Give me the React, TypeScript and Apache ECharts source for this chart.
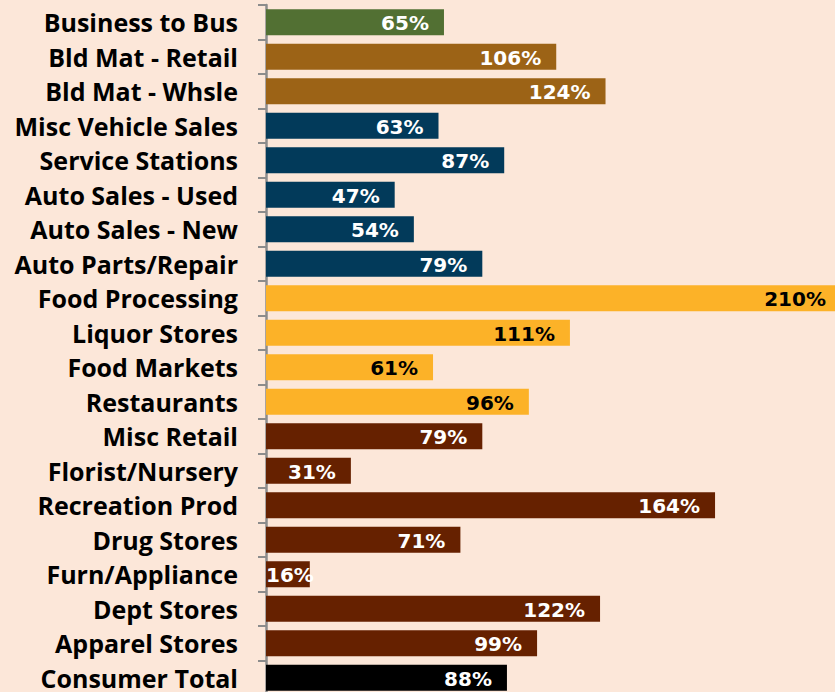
import React, { useEffect, useRef } from "react";
import * as echarts from "echarts";

const categories = [
  "Business to Bus",
  "Bld Mat - Retail",
  "Bld Mat - Whsle",
  "Misc Vehicle Sales",
  "Service Stations",
  "Auto Sales - Used",
  "Auto Sales - New",
  "Auto Parts/Repair",
  "Food Processing",
  "Liquor Stores",
  "Food Markets",
  "Restaurants",
  "Misc Retail",
  "Florist/Nursery",
  "Recreation Prod",
  "Drug Stores",
  "Furn/Appliance",
  "Dept Stores",
  "Apparel Stores",
  "Consumer Total",
];
const values = [65, 106, 124, 63, 87, 47, 54, 79, 210, 111, 61, 96, 79, 31, 164, 71, 16, 122, 99, 88];
const groups = [
  "b2b", "bld", "bld", "auto", "auto", "auto", "auto", "auto",
  "food", "food", "food", "food",
  "retail", "retail", "retail", "retail", "retail", "retail", "retail", "total",
];
const groupColors: Record<string, string> = {
  b2b: "#527033",
  bld: "#9C6316",
  auto: "#023A5A",
  food: "#FCB228",
  retail: "#662100",
  total: "#000000",
};
const groupLabelColors: Record<string, string> = {
  b2b: "#ffffff",
  bld: "#ffffff",
  auto: "#ffffff",
  food: "#000000",
  retail: "#ffffff",
  total: "#ffffff",
};

export default function App() {
  const ref = useRef<HTMLDivElement>(null);
  useEffect(() => {
    if (!ref.current) return;
    const chart = echarts.init(ref.current, undefined, { renderer: "svg" });
    chart.setOption({
      animation: false,
      backgroundColor: "#FCE7D9",
      grid: { left: 266, right: 0, top: 5, bottom: 0, containLabel: false },
      xAxis: {
        type: "value",
        min: 0,
        max: 210,
        show: false,
      },
      yAxis: {
        type: "category",
        inverse: true,
        data: categories,
        axisLine: { show: true, lineStyle: { color: "#8C8C8C", width: 2.5 } },
        axisTick: { show: true, length: 8, inside: false, lineStyle: { color: "#8C8C8C", width: 2 } },
        axisLabel: {
          margin: 28,
          color: "#000000",
          fontFamily: "Open Sans",
          fontWeight: "bold",
          fontSize: 25,
          lineHeight: 20,
        },
        splitLine: { show: false },
      },
      series: [
        {
          type: "bar",
          barCategoryGap: "24%",
          data: values.map((v, i) => ({
            value: v,
            itemStyle: { color: groupColors[groups[i]] },
            label:
              v < 20
                ? { color: groupLabelColors[groups[i]], position: "insideLeft", distance: 0 }
                : { color: groupLabelColors[groups[i]] },
          })),
          label: {
            show: true,
            position: "insideRight",
            distance: 15,
            formatter: (p: any) => p.value + "%",
            fontFamily: "DejaVu Sans",
            fontWeight: "bold",
            fontSize: 20,
            offset: [0, 1],
          },
        },
      ],
    });
    return () => chart.dispose();
  }, []);
  return (
    <div style={{ width: 835, height: 692, position: "absolute", left: 0, top: 0, overflow: "hidden" }}>
      <div ref={ref} style={{ width: 841, height: 695 }} />
    </div>
  );
}
